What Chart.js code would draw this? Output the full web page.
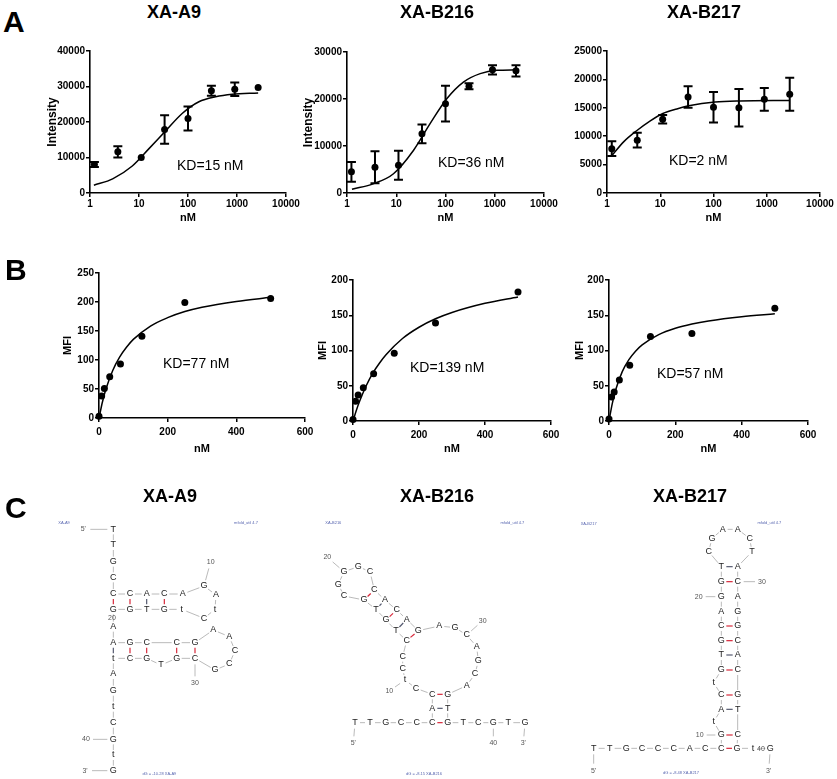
<!DOCTYPE html>
<html>
<head>
<meta charset="utf-8">
<script src="https://cdn.jsdelivr.net/npm/chart.js@4.4.1/dist/chart.umd.min.js"></script>
<style>
html, body { margin: 0; padding: 0; background: #fff; }
#fig { position: relative; width: 837px; height: 779px; overflow: hidden; font-family: Arial, "Liberation Sans", sans-serif; }
#fig canvas { position: absolute; }
.t { position: absolute; white-space: nowrap; line-height: 1; color: #000; }
</style>
</head>
<body>
<div id="fig"></div>
<script>
// ---- panel A: intensity vs concentration (log axis) ----
var concA = [1.23, 3.7, 11.1, 33.3, 100, 300, 900, 2700];
var decades = [1, 10, 100, 1000, 10000];

var a9Int = [8000, 11600, 10000, 17900, 21000, 28800, 29200, 29700];
var a9Err = [700, 1600, 0, 4000, 3400, 1400, 1900, 0];
var a9FitX = [1.2, 2.9, 7.3, 16, 35, 76, 167, 366, 804, 2700];
var a9FitY = [2200, 4000, 7600, 12500, 17500, 22400, 25700, 27100, 27800, 28200];

var b216Int = [4500, 5500, 5900, 12600, 19000, 22700, 26200, 26000];
var b216Err = [2100, 3400, 3100, 2000, 3800, 650, 1000, 1200];
var b216FitX = [1.26, 3.5, 8.8, 22.5, 49, 107, 231, 506, 1100, 2700];
var b216FitY = [800, 2000, 4100, 9100, 14800, 20100, 23600, 25400, 26100, 26200];

var b217Int = [7800, 9300, 13000, 16900, 15100, 15000, 16500, 17400];
var b217Err = [1300, 1300, 750, 1900, 2700, 3300, 2000, 2900];
var b217FitX = [1.24, 2.05, 3.65, 6.5, 11.2, 20.5, 36.5, 107, 316, 2700];
var b217FitY = [6600, 9000, 11000, 12700, 14000, 14800, 15400, 16000, 16200, 16300];

// ---- panel B: MFI vs concentration (linear axis) ----
var concB = [0, 7.8, 15.6, 31.25, 62.5, 125, 250, 500];
var a9Mfi = [3, 38, 51, 71, 93, 141, 199, 206];
var b216Mfi = [2, 28, 37, 47, 67, 96, 139, 183];
var b217Mfi = [3, 34, 41, 58, 79, 120, 124, 160];
var fitBX = [0, 10, 20, 40, 60, 80, 100, 150, 200, 250, 300, 400, 500];
var a9MfiFit = [0, 27.6, 49.5, 82, 105, 122, 135.6, 158.6, 173, 183.5, 191, 201, 208];
var b216MfiFit = [0, 15, 28, 50, 68, 82, 94, 117, 133, 145, 154, 167, 176];
var b217MfiFit = [0, 25, 44, 70, 87, 99, 108, 122.5, 131.5, 137.6, 142, 148, 152];

// ---- panel C: predicted secondary structures (layout units) ----
var a9Seq = "TTGCCCACAGAtCtGTGGAAGCCGAACCGCGTGCtAGtCGtG";
var a9X = [340,340,340,340,340,390,440,493,548,612,648,645,612,545,493,440,390,340,340,340,390,440,530,585,640,688,705,688,645,585,530,483,440,390,340,340,340,340,340,340,340,340];
var a9Y = [88,135,185,232,282,282,282,282,282,258,285,328,355,328,328,328,328,328,380,428,428,428,428,428,390,410,452,492,510,475,475,495,475,475,475,522,572,620,668,718,765,812];
var a9Pairs = [[5,18],[6,17],[7,16],[8,15],[20,35],[21,34],[22,33],[23,31],[24,30]];
var a9Labels = [["5'",250,88,1],["10",632,185,10],["20",336,355,0],["30",585,550,30],["40",258,718,40],["3'",255,812,42]];
var a9Notes = [["XA-A9",192,70],["mfold_util 4.7",738,70],["dG = -10.28 XA-A9",478,822]];

var b216Seq = "TTGCCCACCtCCCTGTGCGGGCCACAGAGCAGCAGTGTCGTG";
var b216X = [195,240,287,333,380,427,427,427,378,345,338,338,350,318,288,258,222,162,145,162,205,240,253,285,320,350,385,448,495,530,560,565,555,530,473,473,473,520,565,610,655,705];
var b216Y = [668,668,668,668,668,668,625,583,565,540,505,470,422,392,360,328,300,288,253,215,200,215,270,300,330,358,392,378,383,405,440,483,522,557,583,625,668,668,668,668,668,668];
var b216Pairs = [[6,37],[7,36],[8,35],[13,27],[14,26],[15,25],[16,24],[17,23]];
var b216Labels = [["20",112,172,20],["10",298,573,10],["30",578,362,30],["5'",190,730,1],["40",610,730,40],["3'",700,730,42]];
var b216Notes = [["XA-B216",130,70],["mfold_util 4.7",667,70],["dG = -8.15 XA-B216",402,822]];

var b217Seq = "TTGCCCACCGtACtGTGCAGGTCGAACTACAGGCACGTCGtG";
var b217X = [110,158,208,255,303,350,398,445,493,493,470,493,493,470,493,493,493,493,493,493,493,493,455,465,497,542,578,585,542,542,542,542,542,542,542,542,542,542,542,540,588,640];
var b217Y = [745,745,745,745,745,745,745,745,745,705,665,628,585,548,510,465,422,378,335,290,245,200,155,115,88,88,115,155,200,245,290,335,378,422,465,510,585,628,705,745,745,745];
var b217Pairs = [[9,40],[10,39],[12,38],[13,37],[15,36],[16,35],[17,34],[18,33],[21,30],[22,29]];
var b217Labels = [["10",428,705,10],["20",425,290,20],["30",615,245,30],["40",612,748,0],["5'",110,812,1],["3'",635,812,42]];
var b217Notes = [["XA-B217",95,72],["mfold_util 4.7",637,70],["dG = -8.48 XA-B217",372,820]];

var FONT = 'Arial, "Liberation Sans", sans-serif';
var fig = document.getElementById('fig');

function text(str, x, cy, size, weight, center) {
    var d = document.createElement('div');
    d.className = 't';
    d.textContent = str;
    d.style.fontSize = size + 'px';
    d.style.fontWeight = weight;
    d.style.top = (cy - 0.489 * size) + 'px';
    d.style.left = x + 'px';
    if (center) d.style.transform = 'translateX(-50%)';
    fig.appendChild(d);
}

function makeCanvas(l, t, w, h) {
    var c = document.createElement('canvas');
    c.width = w; c.height = h;
    c.style.left = l + 'px'; c.style.top = t + 'px';
    c.style.width = w + 'px'; c.style.height = h + 'px';
    fig.appendChild(c);
    return c;
}

function pts(xs, ys) {
    return xs.map(function (x, i) { return { x: x, y: ys[i] }; });
}

// vertical error bars with caps, from dataset.errors
var errorBars = {
    id: 'errorBars',
    afterDatasetsDraw: function (chart) {
        var ds = chart.data.datasets[1];
        if (!ds || !ds.errors) return;
        var ctx = chart.ctx, xs = chart.scales.x, ys = chart.scales.y;
        ctx.save();
        ctx.strokeStyle = '#000';
        ctx.lineWidth = 2;
        ds.data.forEach(function (p, i) {
            var e = ds.errors[i];
            if (!e) return;
            var x = xs.getPixelForValue(p.x);
            var y1 = ys.getPixelForValue(p.y + e), y2 = ys.getPixelForValue(p.y - e);
            ctx.beginPath();
            ctx.moveTo(x, y1); ctx.lineTo(x, y2);
            ctx.moveTo(x - 4.5, y1); ctx.lineTo(x + 4.5, y1);
            ctx.moveTo(x - 4.5, y2); ctx.lineTo(x + 4.5, y2);
            ctx.stroke();
        });
        ctx.restore();
    }
};

function axisStyle(tickPad) {
    return {
        grid: { display: true, drawOnChartArea: false, drawTicks: true, tickLength: 4, color: '#000', lineWidth: 1.5 },
        border: { display: true, color: '#000', width: 1.6 },
        ticks: {
            color: '#000', padding: tickPad, maxRotation: 0, autoSkip: false,
            font: { family: FONT, size: 10, weight: 'bold' },
            callback: function (v) { return String(v); }
        }
    };
}

function bindingChart(o) {
    var yOff = o.yTitle ? o.yTitleSize * 0.6 + 4 : 0;
    var cl = Math.round(o.yTitle ? o.yTitleX - yOff : o.area.l - 50);
    var ct = Math.round(o.area.t - 10);
    var xOff = 11 * 0.6 + 4;
    var W = Math.round(o.area.r + 25 - cl);
    var H = Math.round(o.xTitleY + xOff - ct);
    var yw = o.area.l - cl, xh = ct + H - o.area.b;

    var xAxis = axisStyle(o.log ? 1 : 4);
    xAxis.type = o.log ? 'logarithmic' : 'linear';
    xAxis.position = 'bottom';
    xAxis.min = o.xMin; xAxis.max = o.xMax;
    if (o.log) {
        xAxis.afterBuildTicks = function (axis) {
            axis.ticks = decades.map(function (v) { return { value: v }; });
        };
    } else {
        xAxis.ticks.stepSize = o.xStep;
    }
    xAxis.title = { display: true, text: 'nM', color: '#000', padding: { top: 4, bottom: 4 },
        font: { family: FONT, size: 11, weight: 'bold' } };
    xAxis.afterFit = function (s) { s.height = xh; };

    var yAxis = axisStyle(1);
    yAxis.type = 'linear';
    yAxis.position = 'left';
    yAxis.min = 0; yAxis.max = o.yMax;
    yAxis.ticks.stepSize = o.yStep;
    yAxis.title = { display: !!o.yTitle, text: o.yTitle || '', color: '#000', padding: { top: 4, bottom: 4 },
        font: { family: FONT, size: o.yTitleSize || 11, weight: 'bold' } };
    yAxis.afterFit = function (s) { s.width = yw; };

    new Chart(makeCanvas(cl, ct, W, H), {
        type: 'scatter',
        data: {
            datasets: [
                { data: pts(o.fitX, o.fitY), showLine: true, borderColor: '#000', borderWidth: 1.5,
                  pointRadius: 0, cubicInterpolationMode: 'monotone', fill: false, clip: false },
                { data: pts(o.x, o.y), errors: o.err, pointRadius: 3.5, backgroundColor: '#000',
                  borderColor: '#000', borderWidth: 0, showLine: false, clip: false }
            ]
        },
        options: {
            responsive: false,
            animation: false,
            events: [],
            layout: { padding: { top: 10, right: 25, left: 0, bottom: 0 } },
            plugins: { legend: { display: false }, tooltip: { enabled: false } },
            scales: { x: xAxis, y: yAxis }
        },
        plugins: [errorBars]
    });
}

// letters, backbone, base pairs and numbering for one structure
var rnaDraw = {
    id: 'rnaDraw',
    afterDatasetsDraw: function (chart) {
        var ds = chart.data.datasets[0];
        var nodes = chart.getDatasetMeta(0).data;
        var labs = chart.getDatasetMeta(1).data;
        var ldata = chart.data.datasets[1];
        var ctx = chart.ctx;
        function seg(a, b, ca, cb, color, w) {
            var dx = b.x - a.x, dy = b.y - a.y, len = Math.sqrt(dx * dx + dy * dy);
            if (len < ca + cb + 1) return;
            ctx.beginPath();
            ctx.strokeStyle = color; ctx.lineWidth = w;
            ctx.moveTo(a.x + dx * ca / len, a.y + dy * ca / len);
            ctx.lineTo(b.x - dx * cb / len, b.y - dy * cb / len);
            ctx.stroke();
        }
        ctx.save();
        for (var i = 0; i + 1 < nodes.length; i++) seg(nodes[i], nodes[i + 1], 5, 5, '#a8a8a8', 0.8);
        ds.pairs.forEach(function (p) {
            var a = ds.seq[p[0] - 1].toUpperCase(), b = ds.seq[p[1] - 1].toUpperCase();
            var gc = (a === 'G' && b === 'C') || (a === 'C' && b === 'G');
            seg(nodes[p[0] - 1], nodes[p[1] - 1], 5, 5, gc ? '#d8283a' : '#555a70', 1.2);
        });
        ldata.refs.forEach(function (r, i) {
            if (r > 0) seg(labs[i], nodes[r - 1], 7, 6, '#a8a8a8', 0.8);
        });
        ctx.textAlign = 'center';
        ctx.textBaseline = 'middle';
        ctx.font = '9px ' + FONT;
        ctx.fillStyle = '#222';
        nodes.forEach(function (n, i) { ctx.fillText(ds.seq[i], n.x, n.y); });
        ctx.font = '7px ' + FONT;
        ctx.fillStyle = '#555';
        labs.forEach(function (n, i) { ctx.fillText(ldata.texts[i], n.x, n.y); });
        var notes = chart.getDatasetMeta(2).data, ndata = chart.data.datasets[2];
        ctx.font = '4px ' + FONT;
        ctx.fillStyle = '#5866b0';
        notes.forEach(function (n, i) { ctx.fillText(ndata.texts[i], n.x, n.y); });
        ctx.restore();
    }
};

function rnaChart(left, w, seq, xs, ys, pairs, labels, notes) {
    var c = makeCanvas(left, 500, w, 279);
    new Chart(c, {
        type: 'scatter',
        data: {
            datasets: [
                { data: pts(xs, ys), seq: seq, pairs: pairs, pointRadius: 0 },
                { data: labels.map(function (l) { return { x: l[1], y: l[2] }; }),
                  texts: labels.map(function (l) { return l[0]; }),
                  refs: labels.map(function (l) { return l[3]; }), pointRadius: 0 },
                { data: notes.map(function (l) { return { x: l[1], y: l[2] }; }),
                  texts: notes.map(function (l) { return l[0]; }), pointRadius: 0 }
            ]
        },
        options: {
            responsive: false,
            animation: false,
            events: [],
            layout: { padding: 0 },
            plugins: { legend: { display: false }, tooltip: { enabled: false } },
            scales: {
                x: { display: false, min: 0, max: w * 3 },
                y: { display: false, min: 0, max: 837, reverse: true }
            }
        },
        plugins: [rnaDraw]
    });
}

// panel A
bindingChart({ area: { l: 90, t: 51, r: 286, b: 193 }, yTitle: 'Intensity', yTitleSize: 12, yTitleX: 52,
    xTitleY: 218, log: true, xMin: 1, xMax: 10000, yMax: 40000, yStep: 10000,
    x: concA, y: a9Int, err: a9Err, fitX: a9FitX, fitY: a9FitY });
bindingChart({ area: { l: 347, t: 52, r: 544, b: 193 }, yTitle: 'Intensity', yTitleSize: 12, yTitleX: 308,
    xTitleY: 218, log: true, xMin: 1, xMax: 10000, yMax: 30000, yStep: 10000,
    x: concA, y: b216Int, err: b216Err, fitX: b216FitX, fitY: b216FitY });
bindingChart({ area: { l: 607, t: 51, r: 820, b: 193 },
    xTitleY: 218, log: true, xMin: 1, xMax: 10000, yMax: 25000, yStep: 5000,
    x: concA, y: b217Int, err: b217Err, fitX: b217FitX, fitY: b217FitY });

// panel B
bindingChart({ area: { l: 99, t: 273, r: 305, b: 418 }, yTitle: 'MFI', yTitleSize: 11, yTitleX: 68,
    xTitleY: 449, log: false, xMin: 0, xMax: 600, xStep: 200, yMax: 250, yStep: 50,
    x: concB, y: a9Mfi, fitX: fitBX, fitY: a9MfiFit });
bindingChart({ area: { l: 353, t: 280, r: 551, b: 421 }, yTitle: 'MFI', yTitleSize: 11, yTitleX: 323,
    xTitleY: 449, log: false, xMin: 0, xMax: 600, xStep: 200, yMax: 200, yStep: 50,
    x: concB, y: b216Mfi, fitX: fitBX, fitY: b216MfiFit });
bindingChart({ area: { l: 609, t: 280, r: 808, b: 421 }, yTitle: 'MFI', yTitleSize: 11, yTitleX: 580,
    xTitleY: 449, log: false, xMin: 0, xMax: 600, xStep: 200, yMax: 200, yStep: 50,
    x: concB, y: b217Mfi, fitX: fitBX, fitY: b217MfiFit });

// panel C
rnaChart(0, 280, a9Seq, a9X, a9Y, a9Pairs, a9Labels, a9Notes);
rnaChart(290, 270, b216Seq, b216X, b216Y, b216Pairs, b216Labels, b216Notes);
rnaChart(557, 280, b217Seq, b217X, b217Y, b217Pairs, b217Labels, b217Notes);

// titles, panel letters, KD notes
text('A', 3, 21.5, 30, 'bold');
text('B', 5, 270, 30, 'bold');
text('C', 5, 508, 30, 'bold');
text('XA-A9', 174, 12, 18, 'bold', true);
text('XA-B216', 437, 12, 18, 'bold', true);
text('XA-B217', 704, 12, 18, 'bold', true);
text('XA-A9', 170, 496, 18, 'bold', true);
text('XA-B216', 437, 496, 18, 'bold', true);
text('XA-B217', 690, 496, 18, 'bold', true);
text('KD=15 nM', 177, 165, 14, 'normal');
text('KD=36 nM', 438, 162, 14, 'normal');
text('KD=2 nM', 669, 160, 14, 'normal');
text('KD=77 nM', 163, 363, 14, 'normal');
text('KD=139 nM', 410, 367, 14, 'normal');
text('KD=57 nM', 657, 373, 14, 'normal');
</script>
</body>
</html>
